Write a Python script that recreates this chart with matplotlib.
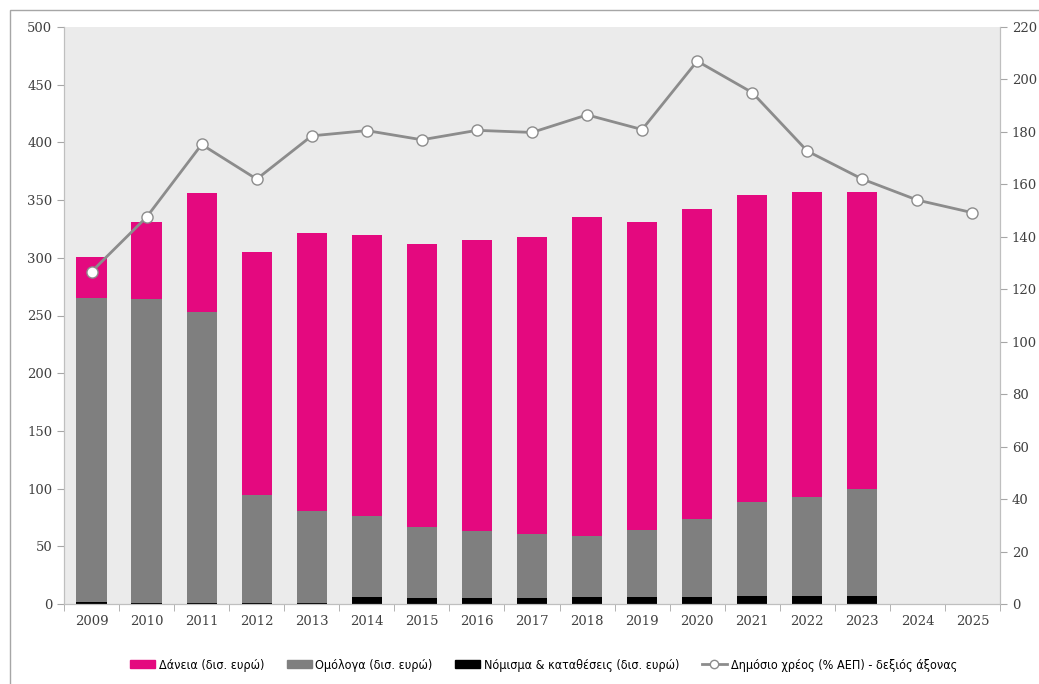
import matplotlib
matplotlib.use("Agg")
import matplotlib.pyplot as plt
from matplotlib.lines import Line2D
from matplotlib.patches import Patch, Rectangle
from matplotlib.font_manager import FontProperties
import numpy as np

years = ["2009", "2010", "2011", "2012", "2013", "2014", "2015", "2016", "2017",
         "2018", "2019", "2020", "2021", "2022", "2023", "2024", "2025"]
# stacked bars, bn EUR (2009-2023)
currency = [1.5, 0.8, 0.8, 0.8, 0.8, 6.0, 5.5, 5.5, 5.5, 6.0, 6.0, 6.0, 7.0, 7.0, 7.0]
bonds = [263.5, 263.2, 252.2, 93.7, 79.8, 70.0, 61.5, 57.5, 55.5, 53.0, 58.0, 68.0, 81.0, 86.0, 93.0]
loans = [36.0, 67.0, 103.0, 210.5, 240.5, 244.0, 245.0, 252.0, 257.0, 276.0, 267.0, 268.0, 266.0, 264.0, 257.0]
debt_pct = [126.7, 147.5, 175.2, 162.0, 178.5, 180.5, 177.0, 180.6, 179.8, 186.5, 180.9,
            207.0, 195.0, 172.7, 162.0, 154.0, 149.2]

PINK = "#E4097F"
GREY = "#7F7F7F"
LINE = "#8C8C8C"

fig = plt.figure(figsize=(10.39, 6.84), dpi=100)
fig.patches.append(Rectangle((10 / 1039, -0.1), 1.2, 1 - 10 / 684 + 0.1, transform=fig.transFigure,
                             fill=False, edgecolor="#A6A6A6", linewidth=1))
ax = fig.add_axes([64 / 1039, 1 - 604 / 684, (1000 - 64) / 1039, (604 - 27) / 684])
ax.set_facecolor("#EBEBEB")

x = np.arange(len(years))
n = len(currency)
w = 0.55
ax.bar(x[:n], currency, w, color="black", zorder=2)
ax.bar(x[:n], bonds, w, bottom=currency, color=GREY, zorder=2)
ax.bar(x[:n], loans, w, bottom=np.array(currency) + np.array(bonds), color=PINK, zorder=2)

ax.set_xlim(-0.5, len(years) - 0.5)
ax.set_ylim(0, 500)
ax.set_yticks(range(0, 501, 50))
ax.set_xticks(x)
ax.set_xticklabels(years)
ax.set_xticks(np.arange(-0.5, len(years)), minor=True)
ax.tick_params(axis="x", which="major", length=0, pad=8)
ax.tick_params(axis="x", which="minor", length=5, color="#A6A6A6")
ax.tick_params(axis="y", length=5, color="#A6A6A6")

ax2 = ax.twinx()
ax2.plot(x, debt_pct, color=LINE, linewidth=2, marker="o", markersize=8,
         markerfacecolor="white", markeredgecolor=LINE, markeredgewidth=1, zorder=3)
ax2.set_ylim(0, 220)
ax2.set_yticks(range(0, 221, 20))
ax2.tick_params(axis="y", length=5, color="#A6A6A6")

for a in (ax, ax2):
    a.spines["top"].set_visible(False)
    for s in ("left", "right", "bottom"):
        a.spines[s].set_color("#BFBFBF")
    for lab in a.get_xticklabels() + a.get_yticklabels():
        lab.set_fontfamily("DejaVu Serif")
        lab.set_fontsize(9.5)
        lab.set_color("#404040")

handles = [Patch(color=PINK), Patch(color=GREY), Patch(color="black"),
           Line2D([], [], color=LINE, linewidth=2, marker="o", markersize=6,
                  markerfacecolor="white", markeredgecolor=LINE)]
labels = ["Δάνεια (δισ. ευρώ)", "Ομόλογα (δισ. ευρώ)", "Νόμισμα & καταθέσεις (δισ. ευρώ)",
          "Δημόσιο χρέος (% ΑΕΠ) - δεξιός άξονας"]
fp = FontProperties(family="DejaVu Sans", stretch="condensed", size=9)
fig.legend(handles, labels, loc="center", bbox_to_anchor=(0.523, 1 - 665 / 684), ncol=4,
           frameon=False, handlelength=2.0, handleheight=0.6, columnspacing=1.8,
           handletextpad=0.3, prop=fp)

fig.savefig("out.png", dpi=100)
